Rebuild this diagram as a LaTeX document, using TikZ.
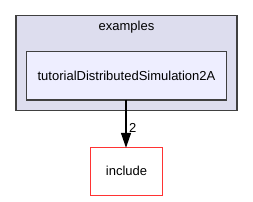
\documentclass[tikz,border=0pt]{standalone}
\usepackage{fontspec}
\setmainfont{Liberation Sans}
\usetikzlibrary{arrows.meta}
\definecolor{clusterfill}{HTML}{DDDDEE}
\definecolor{innerfill}{HTML}{EEEEFF}
\definecolor{edgegray}{HTML}{404040}
\definecolor{redline}{HTML}{FF3333}
\begin{document}
\begin{tikzpicture}[x=1pt,y=-1pt,
  cluster/.style={draw=edgegray,fill=clusterfill,line width=1.5pt},
  dirbox/.style={draw=edgegray,fill=innerfill,line width=1.5pt},
  extbox/.style={draw=redline,fill=white,line width=1.3pt},
  lbl/.style={font=\fontsize{13}{15}\selectfont,inner sep=0pt}]
\useasboundingbox (0,0) rectangle (253,201);
\draw[cluster] (16,15.3) rectangle (237,110.5);
\node[lbl] (clab) at (126.5,27.5) {examples};
\draw[dirbox] (26.7,51.7) rectangle (226.5,99.8);
\node[lbl] (tut) at (126.5,75.5) {tutorialDistributedSimulation2A};
\coordinate (tutbot) at (126,99.8);
\draw[extbox] (90.3,147.8) rectangle (162.5,195.8);
\node[lbl] (inc) at (126.5,171) {include};
\coordinate (inctop) at (126,147.8);
\draw[-{Triangle[length=15pt,width=10pt]},line width=1.3pt] (tutbot) -- (inctop) node[lbl,pos=0.58,right=2.5pt] (two) {2};
\end{tikzpicture}
\end{document}
